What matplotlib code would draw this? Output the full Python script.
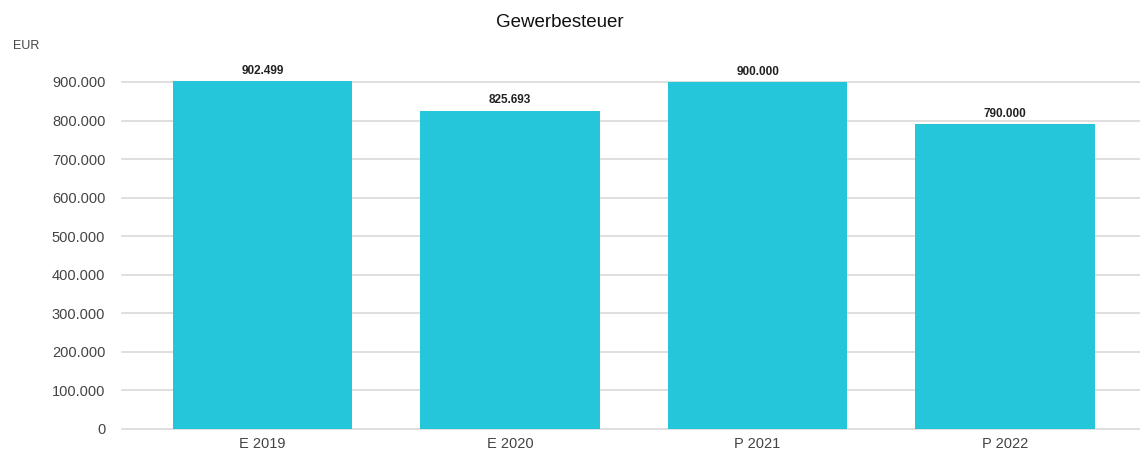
import numpy as np
import matplotlib.pyplot as plt
from matplotlib.ticker import FuncFormatter

plt.rcParams['font.family'] = ['Liberation Sans', 'DejaVu Sans']

categories = ["E 2019", "E 2020", "P 2021", "P 2022"]
values = [902499, 825693, 900000, 790000]
value_labels = ["902.499", "825.693", "900.000", "790.000"]
yticks = [0, 100000, 200000, 300000, 400000, 500000, 600000, 700000, 800000, 900000]


def de_fmt(v, pos=None):
    return f"{int(v):,}".replace(",", ".")


fig = plt.figure(figsize=(11.4, 4.53), dpi=100)
ax = fig.add_axes([0.107, 0.053, 0.893, 0.7916])

x = np.arange(len(categories))
bars = ax.bar(x, values, width=0.725, color="#26C6DA", zorder=3)

for b, lab in zip(bars, value_labels):
    ax.text(b.get_x() + b.get_width() / 2, b.get_height() + 11000, lab,
            ha="center", va="bottom", fontsize=8.5, fontweight="bold", color="#222222")

ax.set_xlim(-0.568, 3.545)
ax.set_ylim(0, 930000)
ax.set_yticks(yticks)
ax.yaxis.set_major_formatter(FuncFormatter(de_fmt))
ax.set_xticks(x)
ax.set_xticklabels(categories)
ax.grid(axis="y", color="#d6d6d6", linewidth=1.1, zorder=0)
for gl in ax.get_ygridlines():
    gl.set_clip_on(False)
for s in ax.spines.values():
    s.set_visible(False)
ax.tick_params(axis="both", length=0, labelsize=10.5, colors="#444444")
ax.tick_params(axis="y", pad=12)
ax.tick_params(axis="x", pad=6)

fig.text(0.491, 0.95, "Gewerbesteuer", ha="center", va="center", fontsize=13.5, color="#111111")
fig.text(0.011, 0.898, "EUR", ha="left", va="center", fontsize=9, color="#444444")

fig.savefig("out.png", dpi=100)
